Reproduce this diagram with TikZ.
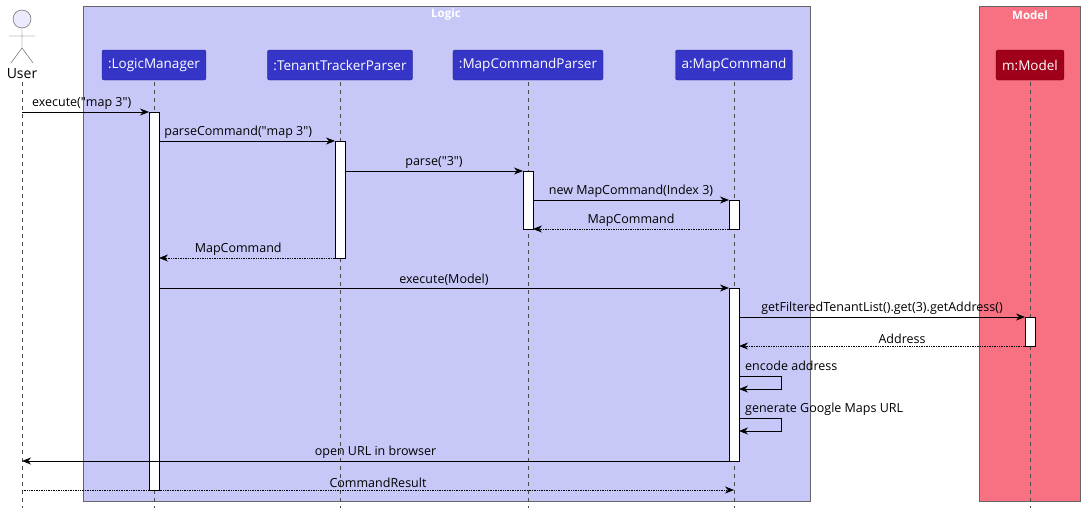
\documentclass[tikz,border=0pt]{standalone}
\usepackage{fontspec}
\setmainfont{Open Sans}
\usetikzlibrary{arrows.meta}
\definecolor{logicbg}{HTML}{C8C8F8}
\definecolor{modelbg}{HTML}{F87182}
\definecolor{part}{HTML}{3535C8}
\definecolor{mpart}{HTML}{A0001A}
\newcommand{\q}{\textquotedbl}
\begin{document}
\begin{tikzpicture}[x=1pt,y=-1pt,
  box/.style={draw=gray!80!black,line width=0.7pt},
  participant/.style={rounded corners=2pt,fill=part,draw=part!70!black,text=white,font=\fontsize{13.5}{15}\selectfont,minimum height=30pt,inner xsep=6pt},
  life/.style={dashed,gray!60!black,dash pattern=on 4pt off 4pt},
  act/.style={fill=white,draw=black,line width=0.6pt},
  msg/.style={-{Stealth[length=9pt,width=7pt]},line width=0.7pt},
  ret/.style={msg,densely dotted},
  lbl/.style={font=\fontsize{12.5}{14}\selectfont,above=1pt,inner sep=1pt}]
\useasboundingbox (0,0) rectangle (1085,514);
\fill[logicbg,box] (83,6) rectangle (810,501);
\fill[modelbg,box] (979,6) rectangle (1080,501);
\node[text=white,font=\bfseries\fontsize{11.5}{13}\selectfont] (tl) at (446,15) {Logic};
\node[text=white,font=\bfseries\fontsize{11.5}{13}\selectfont] (tm) at (1030,15) {Model};
% lifelines
\foreach \x in {22,154,340,528,734,1030} \draw[life] (\x,82) -- (\x,508);
% actor
\draw[gray!60!black,fill=black!8!blue!8] (22,19) circle (9);
\draw[gray!60!black] (22,28) -- (22,48) (9,36) -- (35,36) (11,63) -- (22,48) -- (33,63);
\node[font=\fontsize{14}{15}\selectfont] (user) at (22,74) {User};
\node[participant] (lm) at (154,65) {:LogicManager};
\node[participant] (ttp) at (340,65) {:TenantTrackerParser};
\node[participant] (mcp) at (528,65) {:MapCommandParser};
\node[participant] (mc) at (734,65) {a:MapCommand};
\node[participant,fill=mpart,draw=mpart!70!black] (m) at (1030,65) {m:Model};
% activations
\draw[act] (149,112) rectangle (159,490);
\draw[act] (335,141) rectangle (345,258);
\draw[act] (523,171) rectangle (533,229);
\draw[act] (729,200) rectangle (739,229);
\draw[act] (729,288) rectangle (739,461);
\draw[act] (1025,317) rectangle (1035,346);
% messages
\coordinate (a1) at (22,112); \coordinate (b1) at (149,112);
\draw[msg] (a1) -- node[lbl,pos=0.47] {execute(\q map 3\q)} (b1);
\coordinate (a2) at (159,141); \coordinate (b2) at (335,141);
\draw[msg] (a2) -- node[lbl,pos=0.45] {parseCommand(\q map 3\q)} (b2);
\coordinate (a3) at (345,171); \coordinate (b3) at (523,171);
\draw[msg] (a3) -- node[lbl] {parse(\q 3\q)} (b3);
\coordinate (a4) at (533,200); \coordinate (b4) at (729,200);
\draw[msg] (a4) -- node[lbl] {new MapCommand(Index 3)} (b4);
\coordinate (a5) at (729,229); \coordinate (b5) at (533,229);
\draw[ret] (a5) -- node[lbl] {MapCommand} (b5);
\coordinate (a6) at (335,258); \coordinate (b6) at (159,258);
\draw[ret] (a6) -- node[lbl,pos=0.55] {MapCommand} (b6);
\coordinate (a7) at (159,288); \coordinate (b7) at (729,288);
\draw[msg] (a7) -- node[lbl] {execute(Model)} (b7);
\coordinate (a8) at (739,317); \coordinate (b8) at (1025,317);
\draw[msg] (a8) -- node[lbl] {getFilteredTenantList().get(3).getAddress()} (b8);
\coordinate (a9) at (1025,346); \coordinate (b9) at (739,346);
\draw[ret] (a9) -- node[lbl,pos=0.43] {Address} (b9);
\coordinate (a10) at (739,376); \coordinate (b10) at (739,389);
\draw[msg] (a10) -- (781,376) -- (781,389) -- (b10);
\node[font=\fontsize{12.5}{14}\selectfont,anchor=west,inner sep=1pt] (t10) at (744,366) {encode address};
\coordinate (a11) at (739,418); \coordinate (b11) at (739,431);
\draw[msg] (a11) -- (781,418) -- (781,431) -- (b11);
\node[font=\fontsize{12.5}{14}\selectfont,anchor=west,inner sep=1pt] (t11) at (744,409) {generate Google Maps URL};
\coordinate (a12) at (729,461); \coordinate (b12) at (22,461);
\draw[msg] (a12) -- node[lbl,pos=0.5] {open URL in browser} (b12);
\coordinate (a13) at (22,490); \coordinate (b13) at (734,490);
\draw[ret] (a13) -- node[lbl] {CommandResult} (b13);
\end{tikzpicture}
\end{document}
